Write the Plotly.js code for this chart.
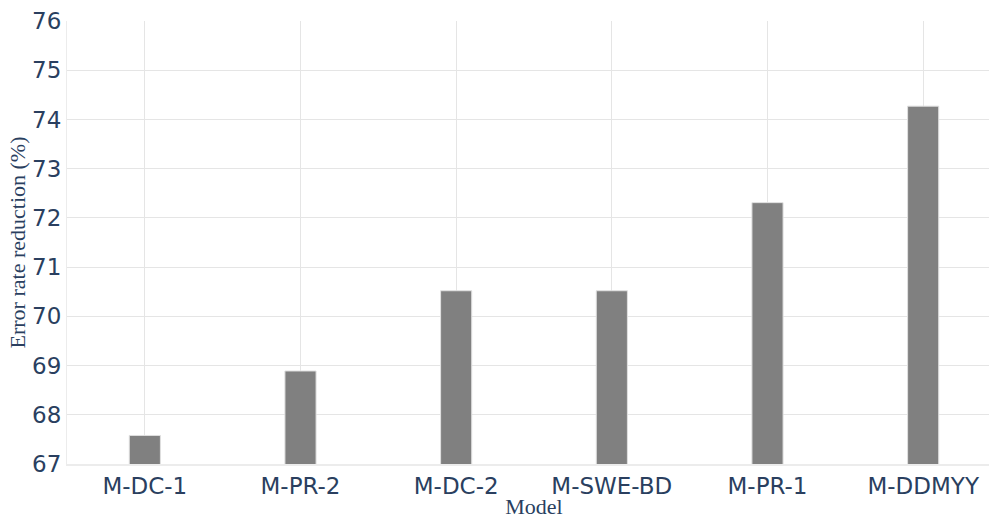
<!DOCTYPE html>
<html>
<head>
<meta charset="utf-8">
<script src="https://cdn.plot.ly/plotly-3.0.1.min.js"></script>
<style>
html, body { margin: 0; padding: 0; overflow: hidden; background: #fff; }
#chart { width: 1001px; height: 519px; }
</style>
</head>
<body>
<div id="chart"></div>
<script>
const models = ["M-DC-1", "M-PR-2", "M-DC-2", "M-SWE-BD", "M-PR-1", "M-DDMYY"];
const errorRateReduction = [67.58, 68.89, 70.52, 70.52, 72.31, 74.27];
const yTicks = [67, 68, 69, 70, 71, 72, 73, 74, 75, 76];

const serif = "'Liberation Serif', 'Times New Roman', serif";
const sans = "'DejaVu Sans', Verdana, sans-serif";

const trace = {
  type: "bar",
  x: models,
  y: errorRateReduction,
  width: 0.2,
  marker: { color: "#808080", line: { color: "#e0e0e0", width: 1 } },
  hoverinfo: "x+y"
};

const layout = {
  width: 1001,
  height: 519,
  margin: { l: 67, r: 0, t: 21, b: 55 },
  paper_bgcolor: "#ffffff",
  plot_bgcolor: "#ffffff",
  showlegend: false,
  font: { family: sans, color: "#2a3f5f" },
  xaxis: {
    title: { text: "Model", font: { family: serif, size: 22, color: "#2a3f5f" }, standoff: 2 },
    tickfont: { family: sans, size: 23, color: "#2a3f5f" },
    showgrid: true,
    gridcolor: "#e5e5e5",
    showline: true,
    linecolor: "#ececec",
    linewidth: 2,
    ticks: ""
  },
  yaxis: {
    title: { text: "Error rate reduction (%)", font: { family: serif, size: 22, color: "#2a3f5f" }, standoff: 0 },
    range: [67, 76],
    tickvals: yTicks,
    tickfont: { family: sans, size: 23, color: "#2a3f5f" },
    showgrid: true,
    gridcolor: "#e5e5e5",
    showline: true,
    linecolor: "#ececec",
    linewidth: 1,
    zeroline: false,
    ticks: ""
  }
};

Plotly.newPlot("chart", [trace], layout, { displayModeBar: false, staticPlot: true });
</script>
</body>
</html>
